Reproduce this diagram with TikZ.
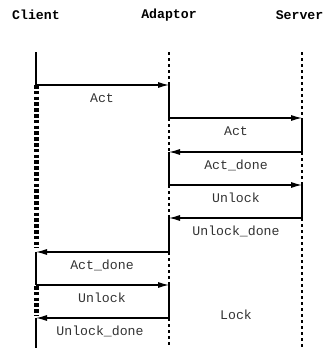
\documentclass[tikz,border=0pt]{standalone}
\usepackage{fontspec}
\setmonofont{Liberation Mono}
\usetikzlibrary{arrows.meta}
\begin{document}
\begin{tikzpicture}[x=1pt,y=-1pt,
  msg/.style={line width=1.1pt,-{Latex[length=11pt,width=6pt]}},
  active/.style={line width=1.1pt},
  idle/.style={line width=1.1pt,dash pattern=on 3pt off 3pt},
  waiting/.style={line width=5.5pt,dash pattern=on 3.5pt off 2.3pt},
  lbl/.style={font=\fontsize{13.2}{15}\selectfont\ttfamily,inner sep=0pt,text=black!80},
  hdr/.style={font=\fontsize{13.2}{15}\selectfont\ttfamily\bfseries,inner sep=0pt}]
\useasboundingbox (0,0) rectangle (324,348);

% event points on the three lifelines
\foreach \n/\x in {c/36,a/169,s/302}
  \foreach \i/\y in {0/52,1/85,2/118,3/152,4/185,5/218,6/252,7/285,8/318,9/348}
    \coordinate (\n\i) at (\x,\y);
\coordinate (cw1) at (36.5,85);
\coordinate (cw2) at (36.5,248);
\coordinate (cw3) at (36.5,286);
\coordinate (cw4) at (36.5,316);

% headers
\node[hdr] (hc) at (36,15) {Client};
\node[hdr] (ha) at (169,15) {Adaptor};
\node[hdr,anchor=east] (hs) at (323.5,15) {Server};

% client lifeline
\draw[active] (c0) -- (c1);
\draw[waiting] (cw1) -- (cw2);
\draw[active] (c6) -- (c7);
\draw[waiting] (cw3) -- (cw4);
\draw[active] (c8) -- (c9);

% adaptor lifeline
\draw[idle] (a0) -- (a1);
\draw[active] (a1) -- (a2);
\draw[idle] (a2) -- (a3);
\draw[active] (a3) -- (a4);
\draw[idle] (a4) -- (a5);
\draw[active] (a5) -- (a6);
\draw[idle] (a6) -- (a7);
\draw[active] (a7) -- (a8);
\draw[idle] (a8) -- (a9);

% server lifeline
\draw[idle] (s0) -- (s2);
\draw[active] (s2) -- (s3);
\draw[idle] (s3) -- (s4);
\draw[active] (s4) -- (s5);
\draw[idle] (s5) -- (s9);

% messages
\draw[msg] (c1) -- (a1);
\draw[msg] (a2) -- (s2);
\draw[msg] (s3) -- (a3);
\draw[msg] (a4) -- (s4);
\draw[msg] (s5) -- (a5);
\draw[msg] (a6) -- (c6);
\draw[msg] (c7) -- (a7);
\draw[msg] (a8) -- (c8);

% message labels
\node[lbl] (l1) at (102,98) {Act};
\node[lbl] (l2) at (236,131) {Act};
\node[lbl] (l3) at (236,165) {Act\_done};
\node[lbl] (l4) at (236,198) {Unlock};
\node[lbl] (l5) at (236,231) {Unlock\_done};
\node[lbl] (l6) at (102,265) {Act\_done};
\node[lbl] (l7) at (102,298) {Unlock};
\node[lbl] (l8) at (100,331) {Unlock\_done};
\node[lbl] (lk) at (236,315) {Lock};
\end{tikzpicture}
\end{document}
